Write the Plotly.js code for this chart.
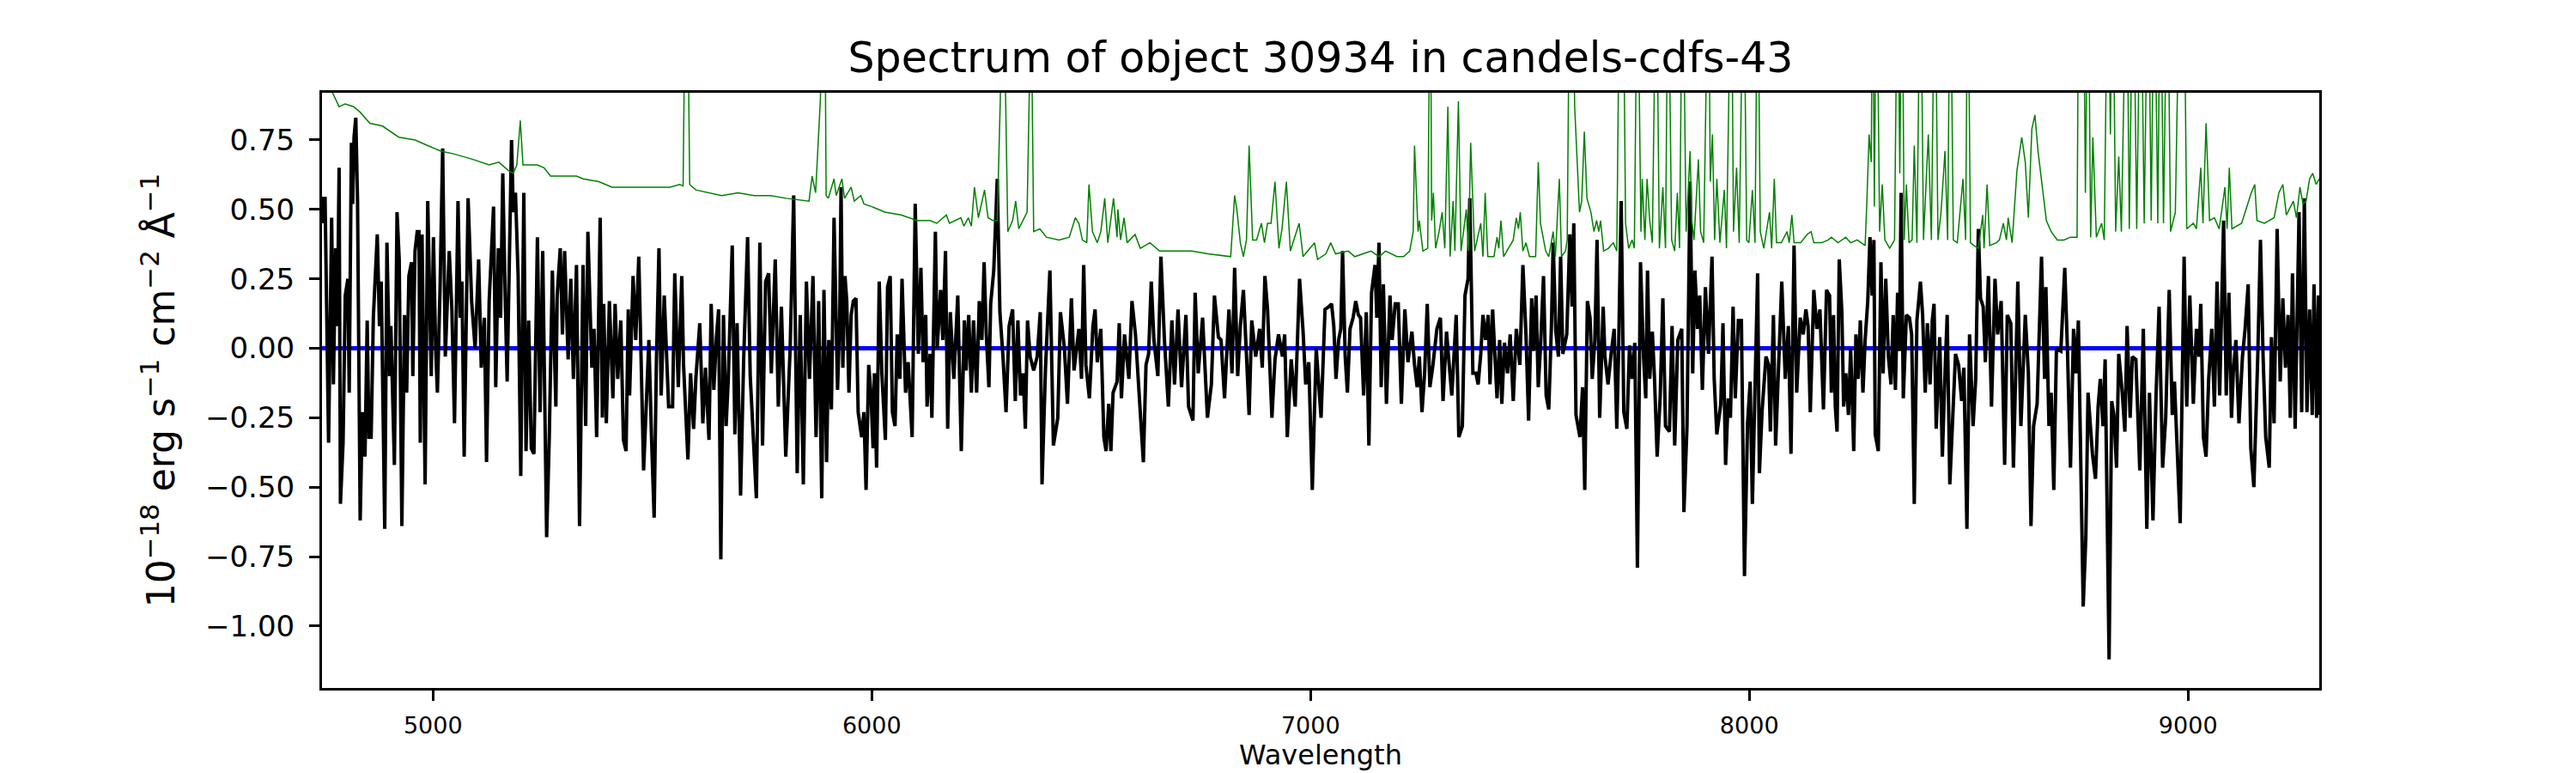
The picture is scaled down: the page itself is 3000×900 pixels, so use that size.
<!DOCTYPE html>
<html>
<head>
<meta charset="utf-8">
<script src="https://cdn.plot.ly/plotly-3.0.1.min.js"></script>
<style>html,body{margin:0;padding:0;background:#fff;}#plot{width:3000px;height:900px;}</style>
</head>
<body>
<div id="plot"></div>
<script>
// ---- Data ----
const chartTitle = 'Spectrum of object 30934 in candels-cdfs-43';
const xLabel = 'Wavelength';
const yLabel = '10<sup>\u221218</sup> erg s<sup>\u22121</sup> cm<sup>\u22122</sup> \u00c5<sup>\u22121</sup>';

const xTickVals = [5000, 6000, 7000, 8000, 9000];
const yTickVals = [-1.00, -0.75, -0.50, -0.25, 0.00, 0.25, 0.50, 0.75];
const yTickFormat = '.2f';

// Zero line (blue)
const zeroWave = [4747, 9299];
const zeroFlux = [0, 0];

// Object flux (black)
const fluxWave = [
4747,4749,4754,4762,4769,4773,4778,4782,4786,4789,4795,4800,4806,4809,4814,4817,4820,4824,4828,4834,4839,4845,4850,4854,4859,4864,4873,4878,4882,4890,
4895,4901,4904,4912,4918,4923,4929,4935,4940,4945,4951,4954,4959,4964,4968,4971,4975,4982,4988,4996,5001,5006,5010,5016,5022,5028,5037,5043,5049,5057,
5062,5066,5071,5080,5088,5096,5104,5110,5117,5122,5128,5138,5143,5149,5154,5159,5165,5169,5179,5183,5188,5194,5200,5207,5212,5218,5224,5230,5238,5244,
5250,5259,5265,5272,5280,5283,5290,5295,5300,5308,5314,5320,5327,5334,5342,5348,5353,5362,5367,5373,5381,5386,5389,5395,5402,5410,5415,5421,5428,5434,
5440,5445,5448,5456,5462,5469,5480,5487,5492,5498,5504,5509,5515,5520,5527,5537,5546,5551,5559,5567,5571,5581,5587,5594,5599,5608,5615,5621,5629,5634,
5640,5646,5651,5656,5662,5668,5673,5682,5688,5693,5701,5708,5717,5723,5730,5737,5745,5751,5758,5765,5771,5780,5787,5794,5804,5814,5822,5830,5837,5844,
5851,5858,5866,5873,5879,5886,
5891,5897,5902,5908,5914,5922,5927,5930,5934,5939,5943,5948,5953,5958,5964,5969,5977,5982,5987,5993,5998,6003,6006,6011,6017,6023,6031,6036,6042,6047,
6053,6058,6064,6069,6077,6083,6092,6099,6106,6112,6117,6123,6126,6133,6137,6145,6149,6157,6162,6168,6173,6179,6187,6196,6204,6211,6215,6221,6227,6232,
6239,6245,6251,6256,6261,6267,6271,6278,6286,6292,6299,6306,6313,6321,6327,6333,6339,6345,6350,6355,6361,6369,6377,6384,6388,6396,6406,6414,6424,6430,
6439,6446,6455,6461,6472,6478,6483,6488,6496,6504,6509,6514,6522,6529,6534,6540,6545,6550,6559,6564,6569,6576,6586,6593,6601,6609,6619,6625,6631,6637,
6643,6652,6659,6667,6676,6684,6690,6698,6706,6716,6722,6732,6737,6744,6754,6765,6774,6781,6790,6796,6804,6814,6821,6827,6834,6840,6847,6855,6860,6866,
6875,6884,6890,6896,6902,6912,6919,6927,6936,6941,6947,6956,6965,6975,6983,6989,6996,7004,7013,7024,7033,
7042,7048,7053,7058,7064,7069,7073,7079,7084,7090,7097,7103,7109,7114,7121,7127,7133,7139,7147,7151,7156,7161,7166,7173,7181,7186,7193,7200,7207,7215,
7222,7231,7237,7243,7248,7254,7260,7266,7272,7279,7288,7296,7302,7310,7315,7322,7332,7338,7346,7352,7359,7363,7370,7377,7382,7388,7393,7399,7405,7409,
7415,7420,7425,7431,7436,7442,7449,7455,7462,7469,7477,7484,7491,7497,7504,7508,7514,7519,7524,7531,7537,7543,7549,7553,7559,7565,7570,7575,7584,7591,
7596,7600,7605,7614,7620,7625,7631,7637,7642,7648,7653,7659,7667,7671,7678,7685,7692,7698,7702,7708,7714,7721,7727,7733,7739,7745,7752,7759,7764,7768,
7773,7779,7784,7790,7797,7803,7809,7818,7824,7830,7837,7846,7851,7858,7865,7871,7876,7882,7887,7893,7900,7907,7915,7920,7926,7935,7940,7946,7952,7957,
7963,7968,7975,7982,7989,7996,8002,8007,8013,8019,8023,8029,8038,8044,8048,8055,8060,8067,8074,8082,8089,8095,8102,8108,8116,8123,8129,8134,8139,8147,
8154,8161,8169,8176,
8183,8187,8192,8196,8200,8205,8211,8215,8220,8226,8231,8238,8243,8248,8253,8259,8264,8270,8275,8280,8284,8287,8294,8300,8305,8311,8317,8323,8328,8333,
8338,8342,8346,8351,8358,8365,8370,8376,8382,8390,8395,8401,8406,8412,8417,8421,8426,8434,8440,8446,8451,8457,8464,8470,8477,8484,8489,8496,8502,8510,
8516,8522,8527,8533,8538,8545,8552,8560,8566,8574,8582,8588,8596,8602,8612,8619,8629,8636,8642,8648,8656,8666,8673,8676,8683,8688,8694,8700,8710,8719,
8725,8732,8739,8744,8750,8755,8761,8767,8772,8782,8789,8795,8800,8806,8811,8820,8826,8831,8837,8842,8850,8856,8861,8868,8873,8881,8890,8898,8906,8912,
8920,8927,8934,8942,8949,8957,8964,8969,8975,8982,8991,8997,9004,9012,9019,9025,9029,9035,9041,9047,9054,9060,9066,9072,9081,9087,9093,9099,9103,9109,
9116,9124,9130,9137,9143,9150,9159,9165,9171,9177,9185,9190,9196,9203,9210,9216,9222,9228,9233,9238,9244,9249,9253,9259,9265,9271,9277,9283,9287,9293,
9297,9299
];
const fluxVal = [
0.45,0.54,0.54,-0.34,0.47,-0.13,0.36,0.08,0.65,-0.56,-0.34,0.19,0.25,-0.16,0.74,0.52,0.76,0.83,0.53,-0.62,-0.23,-0.39,0.10,-0.32,-0.32,0.11,0.41,0.08,0.24,-0.65,
0.38,-0.10,0.08,-0.42,0.49,0.32,-0.64,0.12,-0.16,0.26,0.31,-0.10,0.35,0.42,0.42,-0.34,0.41,-0.49,0.53,-0.10,0.40,0.00,-0.16,0.21,0.72,-0.03,0.35,0.14,-0.27,0.53,
0.11,0.24,-0.39,0.54,0.17,0.00,0.32,-0.07,0.11,-0.41,0.17,0.51,-0.14,0.36,0.11,0.63,0.15,-0.12,0.75,0.49,0.56,0.26,-0.46,0.56,-0.37,0.10,-0.36,-0.38,0.40,-0.23,
0.35,-0.68,-0.32,0.28,-0.21,0.19,0.36,0.05,0.35,-0.04,0.25,-0.11,0.30,-0.64,0.30,-0.28,0.42,-0.07,0.07,-0.32,0.47,-0.25,0.16,-0.27,0.17,-0.18,0.16,-0.11,0.10,-0.33,
-0.37,0.14,-0.17,0.26,0.03,0.33,-0.44,-0.16,0.03,-0.32,-0.61,-0.06,0.36,-0.17,0.19,-0.21,-0.21,0.27,-0.14,0.26,-0.06,-0.40,-0.09,-0.29,-0.11,0.09,-0.27,-0.07,-0.33,0.16,
-0.15,0.04,0.14,-0.76,0.12,-0.28,-0.11,0.37,-0.31,0.09,-0.53,-0.04,0.40,-0.10,-0.34,-0.54,0.38,-0.35,0.24,0.27,-0.09,0.32,-0.21,0.15,-0.39,0.00,0.55,-0.45,0.12,-0.49,
0.24,-0.11,0.26,-0.32,0.17,-0.54,
0.21,-0.41,0.03,-0.22,0.47,-0.15,0.11,0.58,-0.07,0.26,0.17,-0.16,0.12,0.17,0.18,-0.23,-0.32,-0.23,-0.51,-0.06,-0.16,-0.36,-0.09,-0.43,0.24,-0.09,-0.33,0.22,0.26,-0.23,
-0.28,0.05,-0.11,0.25,-0.16,-0.05,-0.32,0.52,-0.02,0.29,-0.05,0.12,-0.21,-0.02,-0.25,0.42,0.00,0.21,0.03,0.35,-0.29,0.13,-0.11,0.19,-0.37,0.10,-0.08,0.12,-0.16,0.10,
-0.16,0.17,0.03,0.31,0.05,-0.14,0.16,0.28,0.61,0.13,-0.03,-0.23,0.08,0.14,-0.19,0.10,-0.17,-0.09,-0.29,0.10,-0.03,-0.08,-0.03,0.13,-0.49,-0.07,0.28,-0.35,-0.25,0.13,
0.00,-0.20,0.18,-0.08,0.07,-0.11,0.30,-0.06,-0.18,0.08,0.14,-0.05,0.07,-0.32,-0.37,-0.20,-0.37,-0.16,-0.12,0.09,-0.18,0.05,-0.11,0.17,0.05,-0.15,-0.41,-0.06,-0.02,0.24,
0.03,-0.10,0.33,0.03,-0.21,0.10,-0.13,0.14,-0.14,0.12,-0.21,-0.26,0.20,-0.09,0.11,-0.25,-0.13,0.19,0.04,0.03,-0.18,0.14,-0.09,0.29,-0.10,0.08,0.21,-0.06,-0.24,0.10,
-0.03,0.07,-0.07,0.26,0.14,-0.25,-0.04,0.05,-0.03,0.05,-0.32,-0.04,-0.21,0.25,0.06,-0.13,-0.05,-0.51,0.00,-0.25,0.14,
0.15,0.16,0.08,-0.11,0.03,0.07,0.35,-0.03,-0.16,0.07,0.11,0.17,0.12,0.11,-0.17,0.13,-0.35,0.20,0.30,0.11,0.38,-0.14,0.23,-0.20,0.19,0.03,0.16,0.16,-0.20,0.14,
-0.05,0.06,-0.06,-0.14,-0.03,-0.23,-0.09,0.16,-0.14,-0.06,0.07,0.11,-0.19,0.06,-0.04,-0.17,0.12,-0.32,-0.28,0.19,0.25,0.54,-0.09,-0.09,-0.13,-0.02,0.12,0.03,0.12,-0.13,
0.14,-0.02,-0.18,0.03,-0.20,0.02,-0.09,0.05,-0.19,0.07,-0.06,0.30,0.05,-0.26,0.18,-0.01,0.19,-0.14,0.00,0.26,-0.17,-0.22,0.08,0.38,0.06,-0.03,0.33,-0.02,0.05,0.41,
0.15,0.45,-0.24,-0.32,-0.14,-0.51,0.17,0.11,-0.11,0.03,0.39,-0.25,0.15,-0.03,-0.13,-0.02,0.07,-0.29,-0.02,0.53,-0.23,-0.29,0.01,-0.11,0.02,-0.79,0.31,-0.03,-0.18,0.28,
-0.11,0.06,-0.11,-0.39,-0.17,0.18,-0.28,-0.30,0.08,-0.35,0.03,0.07,-0.59,-0.28,0.60,-0.09,0.28,0.07,0.19,-0.15,0.22,-0.02,0.33,-0.11,-0.31,-0.20,0.09,-0.42,-0.18,-0.25,
0.15,-0.18,0.10,0.10,-0.82,-0.27,-0.12,-0.56,-0.16,0.27,-0.45,-0.23,-0.03,-0.06,-0.30,0.12,-0.35,-0.02,0.24,-0.11,0.08,-0.38,0.37,-0.16,0.11,0.05,0.14,0.08,-0.23,0.21,
0.07,0.14,-0.22,0.21,
0.19,-0.16,0.12,-0.21,-0.30,0.32,0.13,-0.21,-0.09,-0.24,0.00,-0.37,0.05,-0.11,0.10,-0.16,0.03,0.17,0.40,0.19,0.39,-0.31,-0.37,0.31,-0.09,0.25,-0.03,-0.13,0.12,-0.15,
0.20,-0.01,0.56,-0.18,0.12,0.11,0.05,-0.56,0.10,0.24,0.12,-0.16,0.09,-0.13,0.10,0.16,-0.29,0.04,-0.39,-0.09,0.12,-0.49,-0.21,-0.02,-0.06,-0.19,-0.07,-0.65,0.05,-0.28,
-0.11,0.43,0.18,0.15,-0.05,0.26,-0.21,0.25,0.05,0.17,-0.42,0.12,0.09,-0.43,0.24,-0.28,0.12,-0.09,-0.64,-0.28,-0.20,0.33,-0.11,0.22,-0.28,-0.16,-0.51,0.00,-0.01,0.29,
0.00,-0.43,0.07,-0.09,0.10,-0.38,-0.93,-0.68,-0.16,-0.38,-0.47,-0.21,-0.11,-0.28,-0.04,-1.12,-0.19,-0.24,-0.43,-0.02,-0.16,-0.30,0.08,-0.25,-0.03,-0.04,-0.44,0.07,-0.65,-0.16,
-0.62,-0.17,0.15,-0.43,-0.25,0.21,-0.24,-0.12,-0.37,-0.63,0.33,-0.21,0.19,-0.20,0.07,-0.03,0.16,-0.32,-0.39,-0.11,0.07,-0.21,0.24,-0.17,0.46,-0.17,0.20,-0.25,-0.09,0.03,
-0.27,-0.03,0.07,0.23,-0.36,-0.50,-0.02,0.39,-0.03,-0.32,-0.43,0.04,-0.27,0.43,-0.12,0.18,-0.07,0.12,-0.25,0.27,-0.29,0.10,0.49,-0.23,0.54,-0.23,0.14,-0.24,0.23,-0.25,
0.19,-0.24
];

// Sky / noise spectrum (green)
const skyWave = [
4747,4771,4786,4800,4819,4834,4856,4885,4922,4959,4988,5018,5047,5091,5128,5150,5172,5183,5191,5199,5205,5224,5238,5253,5268,5297,5327,5342,5378,5408,
5437,5474,5511,5540,5562,5570,5574,5577,5581,5585,5599,5629,5658,5695,5732,5769,5805,5857,5864,5872,5883,5888,5893,5896,5901,5914,5919,5932,5938,5953,
5960,5975,5982,6000,6030,6067,6103,6133,6148,6170,6177,6203,6210,6220,6227,6234,6243,6257,6265,6276,6286,6293,6297,6302,6310,6321,6328,6335,6354,6360,
6363,6365,6369,6383,6398,6427,6450,6464,6472,6480,6490,6495,6503,6514,6522,6531,6538,6551,6559,6561,6567,6575,6582,6600,6612,6634,6656,6692,6729,6766,
6818,6827,6832,6840,6847,6854,6860,6868,6877,6888,6895,6902,6910,6919,6928,6935,6945,6954,6974,6983,7009,7016,7035,7046,7057,7086,7101,7138,7156,7171,
7197,7212,7226,7234,7237,7245,7248,7256,7267,7273,7276,7280,7285,7293,7300,7306,7313,7318,7325,7329,7337,7343,7355,7360,7365,7374,7388,7393,7398,7404,
7418,7425,7429,7434,7440,7462,7469,7474,7478,7484,7491,7499,7513,7519,7524,7536,7543,7553,7558,7567,7572,7581,7585,7591,7598,7602,7608,7613,7618,7624,
7630,7639,7646,7652,7657,7661,7668,7679,7690,7698,7705,7712,7718,7725,7733,7738,7745,7753,7756,7762,7767,7773,7779,7788,7795,7803,7809,7815,7823,7830,
7836,7841,7848,7856,7862,7865,7869,7874,7884,7889,7896,7907,7911,7916,7921,7926,7933,7943,7948,7959,7964,7971,7977,7987,7994,7999,8007,8013,8019,8025,
8033,8046,8051,8057,8062,8073,8086,8091,8097,8102,8117,8132,8141,8147,8165,8180,8187,8202,8220,8231,8246,8264,8268,8273,8278,8281,8285,8290,8297,8303,
8309,8320,8331,8338,8343,8348,8353,8358,8364,8371,8376,8382,8390,8397,8408,8415,8423,8430,8437,8446,8452,8458,8465,8474,8487,8493,8498,8504,8512,8522,
8532,8535,8542,8548,8563,8570,8579,8586,8590,8599,8610,8621,8629,8636,8644,8651,8658,8667,8677,8688,8702,8717,8732,8747,8751,8761,8766,8772,8778,8783,
8791,8803,8809,8817,8823,8828,8835,8842,8848,8860,8866,8875,8883,8892,8900,8909,8916,8923,8931,8937,8944,8953,8960,8971,8982,8990,8997,9012,9019,9029,
9034,9041,9049,9060,9071,9084,9089,9094,9100,9122,9144,9152,9157,9174,9196,9207,9216,9224,9240,9247,9255,9262,9269,9277,9284,9292,9299
];
const skyVal = [
0.95,0.92,0.87,0.88,0.87,0.85,0.81,0.80,0.76,0.75,0.73,0.71,0.70,0.68,0.66,0.67,0.64,0.63,0.66,0.82,0.66,0.66,0.66,0.65,0.62,0.62,0.62,0.61,0.60,0.58,
0.58,0.58,0.58,0.58,0.59,0.585,1.2,2.0,1.2,0.59,0.57,0.56,0.55,0.56,0.55,0.55,0.54,0.53,0.62,0.56,0.9,1.5,1.3,0.55,0.54,0.61,0.55,0.61,0.54,0.58,
0.53,0.55,0.52,0.51,0.49,0.48,0.46,0.46,0.45,0.48,0.45,0.47,0.44,0.47,0.44,0.58,0.47,0.57,0.47,0.46,0.46,0.9,1.5,1.2,0.42,0.46,0.53,0.43,0.49,1.0,
1.5,1.0,0.42,0.43,0.40,0.39,0.40,0.47,0.45,0.39,0.38,0.59,0.42,0.38,0.42,0.54,0.38,0.54,0.40,0.50,0.39,0.47,0.38,0.41,0.36,0.38,0.35,0.35,0.35,0.34,
0.33,0.55,0.50,0.38,0.33,0.39,0.73,0.39,0.39,0.45,0.38,0.45,0.45,0.60,0.36,0.43,0.60,0.35,0.45,0.33,0.38,0.32,0.34,0.38,0.34,0.35,0.33,0.35,0.33,0.35,
0.33,0.33,0.35,0.42,0.73,0.42,0.46,0.35,0.36,1.5,0.46,0.56,0.36,0.42,0.49,0.36,0.87,0.33,0.53,0.35,0.89,0.35,0.50,0.35,0.74,0.35,0.45,0.33,0.56,0.33,
0.33,0.40,0.36,0.46,0.33,0.39,0.47,0.43,0.49,0.35,0.38,0.33,0.33,0.67,0.45,0.35,0.33,0.42,0.33,0.61,0.33,0.35,0.39,1.5,1.3,0.87,0.67,0.49,0.53,0.78,
0.54,0.49,0.42,0.46,0.42,0.46,0.35,0.36,0.38,0.35,1.5,1.5,0.45,0.36,0.39,0.36,1.5,0.42,0.61,0.39,0.61,0.46,0.38,1.5,0.36,0.58,0.36,1.5,0.39,0.35,
0.56,0.36,1.5,0.42,0.61,0.71,0.46,0.39,0.68,0.42,0.38,1.5,0.60,0.77,0.39,0.61,0.38,0.57,0.36,1.5,0.42,0.65,0.38,1.5,0.39,0.38,0.57,0.38,1.5,0.42,
0.36,0.49,0.36,0.61,0.38,0.38,0.42,0.38,0.48,0.38,0.38,0.41,0.42,0.38,0.38,0.39,0.40,0.38,0.40,0.38,0.39,0.37,0.53,0.77,0.67,1.5,0.51,1.5,0.42,0.59,
0.39,0.36,0.39,1.5,0.63,1.5,0.39,0.59,0.38,0.39,0.73,0.38,1.5,0.39,0.77,0.39,1.5,0.39,0.49,0.71,0.39,1.5,0.39,0.38,0.61,0.39,1.5,0.38,0.37,0.36,
0.48,0.36,0.59,0.37,0.38,0.39,0.45,0.39,0.47,0.38,0.64,0.76,0.67,0.47,0.79,0.84,0.71,0.59,0.46,0.42,0.39,0.39,0.40,0.40,1.5,1.5,0.56,1.5,0.40,0.76,
0.40,0.45,0.39,1.5,0.77,1.5,0.42,0.69,0.42,1.5,0.43,1.5,0.43,1.5,0.45,1.5,0.46,1.5,0.45,1.5,0.45,1.5,0.42,0.49,1.5,1.5,0.43,0.45,0.43,0.65,
0.45,0.81,0.46,0.47,0.43,0.58,0.43,0.65,0.43,0.45,0.56,0.59,0.46,0.45,0.47,0.56,0.59,0.48,0.53,0.47,0.58,0.52,0.53,0.61,0.63,0.59,0.61
];

// ---- Drawing ----
const traces = [
  {x: zeroWave, y: zeroFlux, type: 'scatter', mode: 'lines', line: {color: '#0000ff', width: 5}, hoverinfo: 'skip'},
  {x: fluxWave, y: fluxVal, type: 'scatter', mode: 'lines', line: {color: '#000000', width: 4}, name: 'flux'},
  {x: skyWave, y: skyVal, type: 'scatter', mode: 'lines', line: {color: '#008000', width: 1.5}, name: 'sky'}
];

const axisCommon = {
  showline: true, mirror: true, linecolor: 'black', linewidth: 3,
  ticks: 'outside', ticklen: 12, tickwidth: 3, tickcolor: 'black',
  showgrid: false, zeroline: false, automargin: false
};

const layout = {
  width: 3000, height: 900,
  margin: {l: 375, r: 299, t: 108, b: 99, pad: 0},
  paper_bgcolor: 'white', plot_bgcolor: 'white',
  showlegend: false,
  font: {family: 'DejaVu Sans, sans-serif', color: 'black'},
  title: {
    text: chartTitle, font: {size: 49, color: 'black'},
    x: 0.5, xref: 'paper', xanchor: 'center',
    y: 1 - 67 / 900, yref: 'container', yanchor: 'middle'
  },
  xaxis: Object.assign({}, axisCommon, {
    range: [4747, 9299],
    tickmode: 'array', tickvals: xTickVals, tickformat: 'd',
    tickfont: {size: 27}, ticklabelstandoff: 6,
    title: {text: xLabel, font: {size: 32}, standoff: 2}
  }),
  yaxis: Object.assign({}, axisCommon, {
    range: [-1.223, 0.92],
    tickmode: 'array', tickvals: yTickVals, tickformat: yTickFormat,
    tickfont: {size: 34}, ticklabelstandoff: 10,
    title: {text: yLabel, font: {size: 44}, standoff: 22}
  })
};

Plotly.newPlot('plot', traces, layout, {staticPlot: true, displayModeBar: false});
</script>
</body>
</html>
